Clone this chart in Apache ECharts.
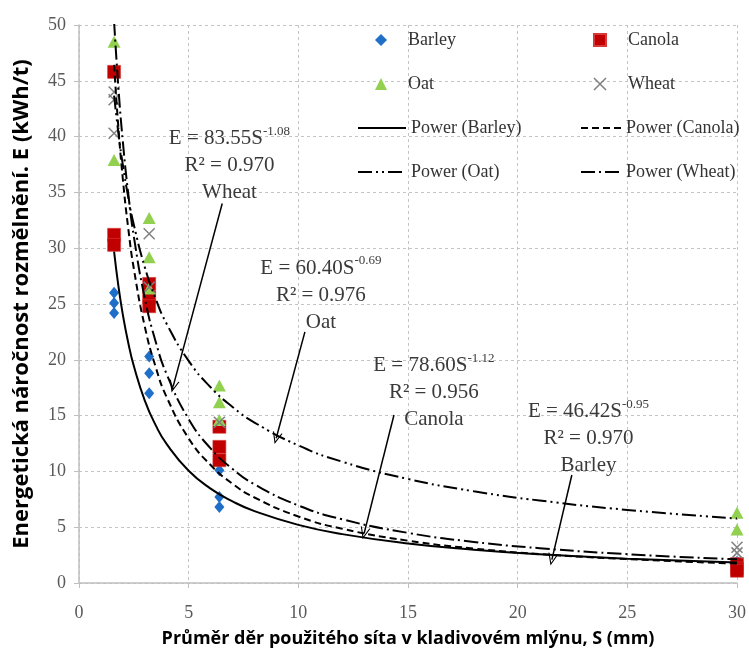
<!DOCTYPE html>
<html><head><meta charset="utf-8">
<script src="https://cdn.jsdelivr.net/npm/echarts@6/dist/echarts.min.js"></script>
<style>html,body{margin:0;padding:0;background:#fff}#c{width:749px;height:655px}</style>
</head><body><div id="c"></div>
<script>
// ---- measured data ----
const barleyS = [1.6, 1.6, 1.6, 3.2, 3.2, 3.2, 6.4, 6.4, 6.4, 30, 30, 30];
const barleyE = [26.0, 25.1, 24.2, 20.3, 18.8, 17.0, 10.1, 7.7, 6.8, 1.9, 1.7, 1.6];
const canolaS = [1.6, 1.6, 1.6, 3.2, 3.2, 3.2, 6.4, 6.4, 6.4, 30, 30, 30];
const canolaE = [45.8, 31.2, 30.3, 26.8, 25.6, 24.8, 14.0, 12.2, 11.0, 1.7, 1.3, 1.1];
const oatS = [1.6, 1.6, 3.2, 3.2, 3.2, 6.4, 6.4, 6.4, 30, 30];
const oatE = [48.5, 37.9, 32.7, 29.2, 26.4, 17.7, 16.2, 14.6, 6.3, 4.8];
const wheatS = [1.6, 1.6, 1.6, 3.2, 3.2, 6.4, 30, 30];
const wheatE = [44.0, 43.3, 40.3, 31.3, 26.5, 14.4, 3.2, 2.7];

// trend lines (power fits as drawn in the figure)
const fitS = [1.6, 1.8, 2, 2.25, 2.5, 3, 3.5, 4, 5, 6, 7, 8, 10, 12, 15, 18, 21, 25, 30];
const barleyFit = [29.70, 26.56, 24.03, 21.49, 19.44, 16.35, 14.12, 12.44, 10.06, 8.46, 7.31, 6.44, 5.21, 4.38, 3.54, 2.98, 2.57, 2.18, 1.83];
const canolaFit = [46.43, 40.70, 36.17, 31.70, 28.16, 22.97, 19.33, 16.64, 12.96, 10.57, 8.89, 7.66, 5.96, 4.86, 3.79, 3.09, 2.60, 2.14, 1.74];
const oatFit = [43.67, 40.26, 37.44, 34.52, 32.10, 28.30, 25.45, 23.21, 19.90, 17.54, 15.77, 14.38, 12.33, 10.87, 9.32, 8.22, 7.39, 6.55, 5.78];
const wheatFit = [50.29, 44.29, 39.53, 34.80, 31.06, 25.51, 21.60, 18.70, 14.69, 12.06, 10.22, 8.84, 6.95, 5.71, 4.49, 3.68, 3.12, 2.58, 2.12];

// annotation texts
const noteCrop = ['Wheat', 'Oat', 'Canola', 'Barley'];
const noteEq = ['E = 83.55S', 'E = 60.40S', 'E = 78.60S', 'E = 46.42S'];
const noteExp = ['-1.08', '-0.69', '-1.12', '-0.95'];
const noteR2 = ['R² = 0.970', 'R² = 0.976', 'R² = 0.956', 'R² = 0.970'];
const noteAt = [[6.86, 37.4], [11.03, 25.8], [16.18, 17.1], [23.23, 12.95]];
const arrowFrom = [[6.53, 34.0], [10.3, 22.5], [14.36, 15.05], [22.47, 9.68]];
const arrowTo = [[4.29, 17.6], [8.99, 12.97], [13.0, 4.45], [21.56, 2.1]];

const xTitle = 'Průměr děr použitého síta v kladivovém mlýnu, S (mm)';
const yTitle = 'Energetická náročnost rozmělnění. E (kWh/t)';

const zip = (a, b) => a.map((v, i) => [v, b[i]]);
const SERIF = '"Liberation Serif", "Times New Roman", serif';
const SANS = '"Open Sans", "Noto Sans", sans-serif';
const X_PATH = 'path://M0,0L10,10M10,0L0,10';
const CHEVRON = 'path://M5,0L10,11L8.8,11L5,2.6L1.2,11L0,11Z';

const dashCanola = [7, 4];
const dashOat = [14, 4, 2, 4, 2, 4];
const dashWheat = [14, 4, 2, 4];

const chart = echarts.init(document.getElementById('c'), null, {renderer: 'canvas'});

const noteData = noteAt.map((p, i) => ({
  coord: p,
  symbol: 'circle',
  symbolSize: 0,
  label: {
    show: true,
    position: 'inside',
    align: 'center',
    verticalAlign: 'middle',
    formatter: '{t|' + noteEq[i] + '}{s|' + noteExp[i] + '}\n{t|' + noteR2[i] + '}\n{t|' + noteCrop[i] + '}',
    rich: {
      t: {fontFamily: SERIF, fontSize: 21, lineHeight: 27, color: '#3a3a3a'},
      s: {fontFamily: SERIF, fontSize: 13, lineHeight: 14, verticalAlign: 'top', color: '#3a3a3a'}
    }
  }
}));
const arrowData = arrowFrom.map((p, i) => [{coord: p}, {coord: arrowTo[i]}]);

const lineItem = (name, type) => ({
  name,
  itemStyle: {color: 'rgba(0,0,0,0)', borderColor: 'rgba(0,0,0,0)', borderWidth: 0},
  lineStyle: {color: '#000', width: 2, type}
});
const legendText = (padLeft) => ({fontFamily: SERIF, fontSize: 18, lineHeight: 22, color: '#333', padding: [0, 0, 0, padLeft]});
const legendBase = {orient: 'vertical', padding: 0, itemHeight: 12, itemGap: 22, selectedMode: false};

const option = {
  animation: false,
  backgroundColor: '#fff',
  grid: {left: 79, right: 10, top: 25, bottom: 72, containLabel: false},
  legend: [
    Object.assign({}, legendBase, {left: 375, top: 29, itemWidth: 12, textStyle: legendText(16),
      data: [{name: 'Barley'}, {name: 'Oat'}]}),
    Object.assign({}, legendBase, {left: 357, top: 117, itemWidth: 48, textStyle: legendText(0),
      data: [lineItem('Power (Barley)', 'solid'), lineItem('Power (Oat)', dashOat)]}),
    Object.assign({}, legendBase, {left: 593, top: 29, itemWidth: 12, textStyle: legendText(17),
      data: [{name: 'Canola'},
             {name: 'Wheat', itemStyle: {color: 'rgba(0,0,0,0)', borderColor: '#808080', borderWidth: 1.5}}]}),
    Object.assign({}, legendBase, {left: 580, top: 117, itemWidth: 40, textStyle: legendText(0),
      data: [lineItem('Power (Canola)', dashCanola), lineItem('Power (Wheat)', dashWheat)]})
  ],
  xAxis: {
    type: 'value', min: 0, max: 30, interval: 5,
    name: xTitle, nameLocation: 'middle', nameGap: 47,
    nameTextStyle: {fontFamily: SANS, fontSize: 18, fontWeight: 'bold', color: '#000'},
    axisLine: {show: true, onZero: false, lineStyle: {color: '#bfbfbf', width: 1.5}},
    axisTick: {show: true, length: 5, lineStyle: {color: '#bfbfbf'}},
    axisLabel: {margin: 21, fontFamily: SERIF, fontSize: 18, color: '#595959'},
    splitLine: {show: true, lineStyle: {color: '#c4c4c4', type: [3, 3], width: 1}}
  },
  yAxis: {
    type: 'value', min: 0, max: 50, interval: 5,
    name: yTitle, nameLocation: 'middle', nameGap: 46, nameRotate: 90,
    nameTextStyle: {fontFamily: SANS, fontSize: 22, fontWeight: 'bold', color: '#000'},
    axisLine: {show: true, lineStyle: {color: '#bfbfbf', width: 1.5}},
    axisTick: {show: true, length: 5, lineStyle: {color: '#bfbfbf'}},
    axisLabel: {margin: 13, fontFamily: SERIF, fontSize: 18, color: '#595959'},
    splitLine: {show: true, lineStyle: {color: '#c4c4c4', type: [3, 3], width: 1}}
  },
  series: [
    {name: 'Barley', type: 'scatter', data: zip(barleyS, barleyE), symbol: 'diamond', symbolSize: [10, 12],
     itemStyle: {color: '#1f6fc9', opacity: 1}, z: 2},
    {name: 'Canola', type: 'scatter', data: zip(canolaS, canolaE), symbol: 'rect', symbolSize: 13,
     itemStyle: {color: '#c00000', borderColor: '#d83a3a', borderWidth: 0.6, opacity: 1}, z: 2},
    {name: 'Oat', type: 'scatter', data: zip(oatS, oatE), symbol: 'triangle', symbolSize: [13, 12],
     itemStyle: {color: '#92d050', opacity: 1}, z: 2},
    {name: 'Wheat', type: 'scatter', data: zip(wheatS, wheatE), symbol: X_PATH, symbolSize: 11,
     itemStyle: {color: 'rgba(0,0,0,0)', borderColor: '#808080', borderWidth: 1.5, opacity: 1}, z: 2},
    {name: 'Power (Barley)', type: 'line', data: zip(fitS, barleyFit), symbol: 'none', smooth: 0.5,
     lineStyle: {color: '#000', width: 2, type: 'solid'}, itemStyle: {color: '#000'}, z: 3,
     markPoint: {silent: true, animation: false, data: noteData},
     markLine: {silent: true, animation: false, symbol: ['none', CHEVRON], symbolSize: [10, 12],
       lineStyle: {color: '#000', width: 1.5, type: 'solid'}, label: {show: false}, data: arrowData}},
    {name: 'Power (Canola)', type: 'line', data: zip(fitS, canolaFit), symbol: 'none', smooth: 0.5,
     lineStyle: {color: '#000', width: 2, type: dashCanola}, itemStyle: {color: '#000'}, z: 3},
    {name: 'Power (Oat)', type: 'line', data: zip(fitS, oatFit), symbol: 'none', smooth: 0.5,
     lineStyle: {color: '#000', width: 2, type: dashOat}, itemStyle: {color: '#000'}, z: 3},
    {name: 'Power (Wheat)', type: 'line', data: zip(fitS, wheatFit), symbol: 'none', smooth: 0.5,
     lineStyle: {color: '#000', width: 2, type: dashWheat}, itemStyle: {color: '#000'}, z: 3}
  ]
};
chart.setOption(option);
</script>
</body></html>
